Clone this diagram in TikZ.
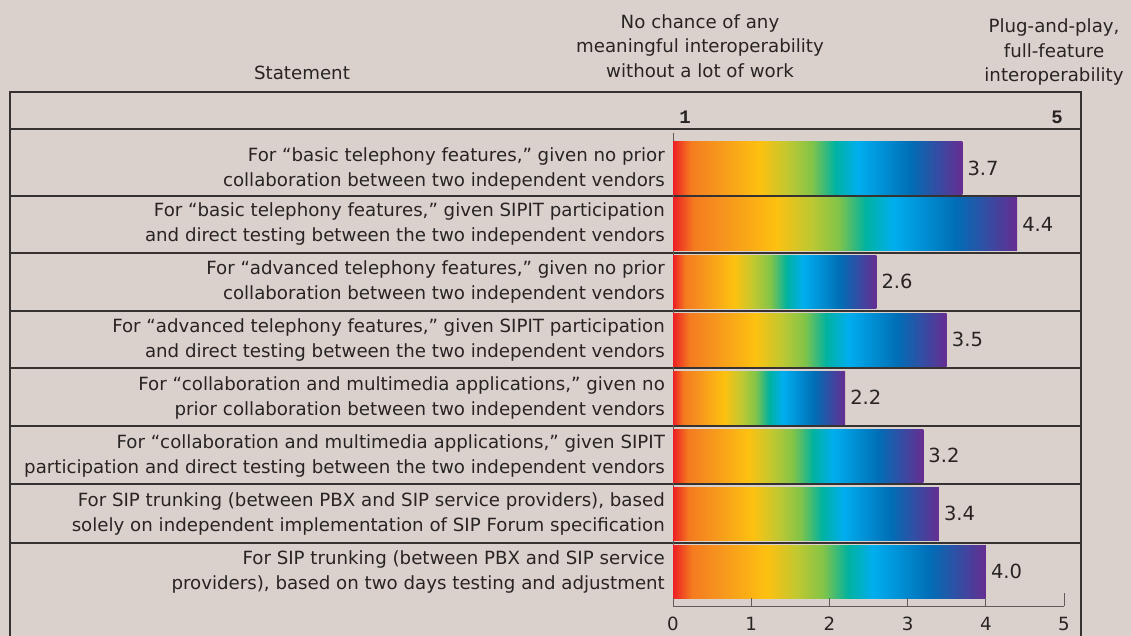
\documentclass[tikz,border=0pt]{standalone}
\usepackage{fontspec}
\setmainfont{DejaVu Sans}
\newfontfamily\axisMono{Liberation Mono}
\usepackage{tikz}
\usetikzlibrary{positioning}
\definecolor{paperColor}{RGB}{219,209,204}
\definecolor{inkColor}{RGB}{40,36,36}
\definecolor{ruleColor}{RGB}{55,50,50}
\definecolor{barRed}{RGB}{237,31,36}
\definecolor{barOrange}{RGB}{246,146,30}
\definecolor{barYellow}{RGB}{253,193,16}
\definecolor{barLime}{RGB}{190,200,50}
\definecolor{barGreen}{RGB}{130,196,72}
\definecolor{barTeal}{RGB}{0,178,160}
\definecolor{barCyan}{RGB}{0,174,239}
\definecolor{barBlue}{RGB}{0,110,182}
\definecolor{barPurple}{RGB}{102,45,145}
\pgfdeclarehorizontalshading{rainbow}{100bp}{color(0bp)=(barRed); color(25bp)=(barRed); color(28bp)=(barOrange!80!barRed); color(32bp)=(barOrange); color(40bp)=(barYellow); color(45bp)=(barLime); color(49bp)=(barGreen); color(53bp)=(barTeal); color(57bp)=(barCyan); color(66bp)=(barBlue); color(75bp)=(barPurple); color(100bp)=(barPurple)}
\tikzstyle{chart} = [x = 1pt, y = -1pt]
\tikzstyle{tableRule} = [color=ruleColor, line width=1.3pt]
\tikzstyle{axisLine} = [color=ruleColor!80, line width=1pt]
\tikzstyle{headText} = [text=inkColor, align=center, inner sep=0pt, font=\fontsize{18.2}{24.5}\selectfont]
\tikzstyle{statementText} = [text=inkColor, align=right, anchor=east, inner sep=0pt, font=\fontsize{18.2}{25}\selectfont]
\tikzstyle{valueText} = [text=inkColor, anchor=west, inner sep=0pt, font=\fontsize{19.5}{24}\selectfont]
\tikzstyle{monoText} = [text=inkColor, inner sep=0pt, font=\fontsize{19}{24}\selectfont\axisMono\bfseries]
\newcommand{\axisX}{673}
\newcommand{\unitW}{78.2}
\newcommand{\rowRule}[1]{\draw [tableRule] (10, #1) -- (1081, #1);}
\newcommand{\ratingBar}[6]{
  \shade [shading=rainbow] (\axisX, #2) rectangle ({\axisX + #4 * \unitW}, #3);
  \node [valueText] (#1Value) at ({\axisX + #4 * \unitW + 5}, {(#2 + #3) / 2}) {#4};
  \node [statementText] (#1Text) at (665, {(#2 + #3) / 2}) {#5\\#6};
}

\begin{document}
\begin{tikzpicture}[chart]
  \fill [paperColor] (0, 0) rectangle (1131, 636);
  \useasboundingbox (0, 0) rectangle (1131, 636);
  % headings
  \node [headText] (statementHead) at (302, 73) {Statement};
  \node [headText] (lowHead) at (700, 46) {No chance of any\\meaningful interoperability\\without a lot of work};
  \node [headText] (highHead) at (1054, 52) {Plug-and-play,\\full-feature\\interoperability};
  \node [monoText] (lowEnd) at (685, 117) {1};
  \node [monoText] (highEnd) at (1057, 117) {5};
  % table
  \draw [tableRule] (10, 636) -- (10, 92) -- (1081, 92) -- (1081, 636);
  \foreach \y in {129, 196, 253, 311, 368, 426, 484, 543} {
    \rowRule{\y}
  }
  \draw [axisLine] (\axisX, 133) -- (\axisX, 606);
  % bars
  \ratingBar{basicNone}{142}{195}{3.7}{For “basic telephony features,” given no prior}{collaboration between two independent vendors}
  \ratingBar{basicSipit}{198}{250}{4.4}{For “basic telephony features,” given SIPIT participation}{and direct testing between the two independent vendors}
  \ratingBar{advNone}{255}{308}{2.6}{For “advanced telephony features,” given no prior}{collaboration between two independent vendors}
  \ratingBar{advSipit}{313}{366}{3.5}{For “advanced telephony features,” given SIPIT participation}{and direct testing between the two independent vendors}
  \ratingBar{collabNone}{371}{424}{2.2}{For “collaboration and multimedia applications,” given no}{prior collaboration between two independent vendors}
  \ratingBar{collabSipit}{429}{482}{3.2}{For “collaboration and multimedia applications,” given SIPIT}{participation and direct testing between the two independent vendors}
  \ratingBar{trunkSpec}{487}{540}{3.4}{For SIP trunking (between PBX and SIP service providers), based}{solely on independent implementation of SIP Forum specification}
  \ratingBar{trunkTest}{545}{598}{4.0}{For SIP trunking (between PBX and SIP service}{providers), based on two days testing and adjustment}
  % scale
  \draw [axisLine] (\axisX, 606) -- ({\axisX + 5 * \unitW}, 606);
  \foreach \t in {0,...,5} {
    \draw [axisLine] ({\axisX + \t * \unitW}, 606) -- ({\axisX + \t * \unitW}, 598);
    \node [headText] (tick\t) at ({\axisX + \t * \unitW}, 624) {\t};
  }
  \draw [axisLine] ({\axisX + 5 * \unitW}, 598) -- ({\axisX + 5 * \unitW}, 593);
\end{tikzpicture}
\end{document}
